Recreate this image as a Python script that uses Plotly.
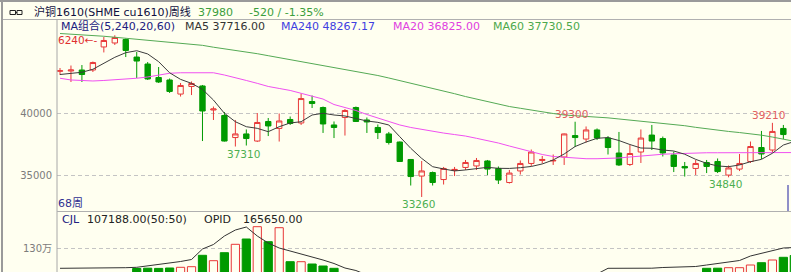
import plotly.graph_objects as go

W, H = 791, 272
BG = "#FFFFF0"
RED = "#E83838"
GREEN = "#009A00"
FONT = "DejaVu Sans, Noto Sans CJK SC"

weeks = list(range(68))
open_ = [43350, 43370, 43450, 43450, 45300, 45620, 45900, 44490, 43930, 42850,
         42650, 41520, 42130, 42170, 40240, 39800, 38030, 38320, 37750, 39320,
         38760, 39480, 39200, 40920, 40440, 39040, 39640, 40440, 39440, 38840,
         38320, 37670, 36270, 34940, 35220, 34660, 35390, 35630, 35750, 36150,
         35550, 34420, 35350, 35950, 36190, 36150, 36470, 38190, 37910, 38640,
         37990, 36790, 35870, 36870, 38230, 37950, 36630, 35710, 35550, 36030,
         36110, 35020, 35500, 36110, 37230, 37030, 38760, 38400]
high = [43610, 43810, 43850, 44130, 46100, 46240, 45980, 44900, 44090, 43690,
        42770, 42410, 42530, 42250, 40520, 40080, 39440, 38680, 40000, 39600,
        39960, 39720, 41570, 41400, 40520, 39320, 40320, 40520, 39640, 39080,
        38480, 37710, 36310, 36150, 35300, 35670, 35670, 36230, 36390, 36230,
        35710, 35430, 36190, 37070, 36550, 36670, 38350, 39300, 38920, 38760,
        38150, 38480, 37430, 38680, 39040, 38110, 36910, 36070, 36230, 36230,
        36350, 35790, 36710, 37710, 38560, 39210, 39040, 38600]
low = [43050, 42490, 42490, 43290, 44860, 45460, 44490, 42810, 42650, 42410,
       41610, 41320, 41440, 37750, 39440, 37710, 37310, 37390, 37670, 38150,
       37710, 39040, 39040, 40400, 38400, 37990, 38190, 39280, 38400, 37910,
       37470, 36070, 34180, 33260, 34180, 34260, 34940, 35430, 35430, 35020,
       34300, 34340, 35060, 35750, 35950, 35830, 35830, 37270, 37630, 37830,
       36670, 35750, 35750, 35990, 37030, 36510, 35260, 34900, 35020, 35180,
       35180, 34840, 35340, 35990, 36310, 36790, 37910, 37800]
close = [43390, 43450, 43090, 44050, 45820, 46060, 45020, 44170, 42730, 42490,
         41730, 42210, 42370, 40160, 40320, 37750, 38320, 37950, 39240, 38960,
         39360, 39160, 41160, 40760, 39120, 38840, 40200, 39320, 39280, 38430,
         37630, 36110, 34900, 35350, 34420, 35550, 35470, 36030, 36190, 35500,
         34620, 35180, 35950, 36870, 36270, 36190, 38320, 38030, 38640, 37990,
         37230, 35830, 36750, 37990, 37750, 36790, 35710, 35590, 35950, 35710,
         35300, 35590, 35950, 37310, 36710, 38520, 38270, 37980]
ma5 = [43090, 43190, 43270, 43510, 43990, 44470, 44840, 45000, 44740, 44120,
       43230, 42700, 42380, 41900, 41040, 39980, 39300, 38900, 38770, 38500,
       38900, 39200, 39300, 39840, 39980, 39840, 39760, 39570, 39360, 39250,
       39040, 38100, 37170, 36360, 35690, 35510, 35350, 35430, 35560, 35640,
       35560, 35550, 35610, 35710, 35910, 36230, 36710, 37310, 37670, 37970,
       38030, 37790, 37470, 37190, 37170, 37030, 36950, 36690, 36280, 35960,
       35750, 35690, 35830, 36090, 36280, 36770, 37430, 37716]
ma20 = [42790, 42650, 42610, 42570, 42610, 42650, 42730, 42790, 42890, 43050,
        43190, 43230, 43250, 43250, 43230, 43050, 42850, 42610, 42380, 42130,
        41970, 41810, 41580, 41320, 41120, 40680, 40430, 40200, 39880, 39600,
        39280, 39040, 38840, 38680, 38520, 38390, 38270, 38150, 37970, 37790,
        37590, 37350, 37110, 36870, 36670, 36510, 36430, 36360, 36330, 36330,
        36350, 36390, 36470, 36550, 36630, 36690, 36730, 36770, 36790, 36810,
        36810, 36820, 36825, 36825, 36825, 36825, 36825, 36825]
ma60 = [46380, 46340, 46280, 46220, 46160, 46080, 46000, 45900, 45820, 45750,
        45700, 45620, 45510, 45430, 45280, 45160, 45060, 44910, 44760, 44600,
        44440, 44290, 44130, 43970, 43810, 43650, 43470, 43370, 43190, 43010,
        42810, 42610, 42410, 42180, 41980, 41770, 41550, 41320, 41110, 40880,
        40720, 40520, 40380, 40220, 40080, 39960, 39840, 39780, 39740, 39700,
        39610, 39520, 39440, 39360, 39260, 39170, 39080, 38980, 38850, 38720,
        38610, 38520, 38430, 38350, 38220, 38070, 37870, 37730]
volume = [780000, 790000, 770000, 800000, 790000, 800000, 810000, 890000, 896000, 892000,
          900000, 914000, 926000, 1154000, 1046000, 1206000, 1374000, 1480000, 1726000, 1426000,
          1706000, 1026000, 1026000, 980000, 940000, 894000, 810000, 790000, 760000, 740000,
          760000, 790000, 800000, 810000, 780000, 760000, 720000, 700000, 690000, 700000,
          720000, 710000, 700000, 720000, 700000, 690000, 730000, 740000, 720000, 710000,
          700000, 730000, 720000, 740000, 730000, 750000, 760000, 770000, 800000, 894000,
          896000, 906000, 906000, 960000, 1006000, 1060000, 1114000, 1150000]
opid = [894000, 894000, 894000, 894000, 894000, 900000, 906000, 914000, 940000, 970000,
        1000000, 1030000, 1070000, 1280000, 1370000, 1540000, 1660000, 1720000, 1540000, 1400000,
        1300000, 1240000, 1180000, 1130000, 1060000, 990000, 900000, 850000, 760000, 740000,
        730000, 720000, 710000, 700000, 690000, 690000, 680000, 680000, 680000, 690000,
        690000, 700000, 700000, 710000, 720000, 730000, 740000, 750000, 760000, 780000,
        894000, 892000, 892000, 894000, 896000, 910000, 914000, 920000, 930000, 960000,
        990000, 1020000, 1050000, 1140000, 1190000, 1240000, 1300000, 1310000]
price_ticks = [35000, 40000]
vol_ticks = [1300000]
vol_ticktext = ["130万"]

extremes = [  # (week, value, text, kind)
    (16, 37310, "37310", "low"),
    (33, 33260, "33260", "low"),
    (61, 34840, "34840", "low"),
    (47, 39300, "39300", "high"),
    (65, 39210, "39210", "high"),
]


def pxx(x):
    return x / W


def pxy(y):
    return 1 - y / H


step = 10.96
x_range = [(57 - 60) / step, (791 - 60) / step]

fig = go.Figure()
fig.add_trace(go.Scatter(x=weeks, y=ma60, mode="lines", line=dict(color="#55AA55", width=1),
                         xaxis="x", yaxis="y", hoverinfo="skip"))
fig.add_trace(go.Scatter(x=weeks, y=ma20, mode="lines", line=dict(color="#F050F0", width=1),
                         xaxis="x", yaxis="y", hoverinfo="skip"))
fig.add_trace(go.Candlestick(
    x=weeks, open=open_, high=high, low=low, close=close,
    increasing=dict(line=dict(color=RED, width=1), fillcolor=BG),
    decreasing=dict(line=dict(color=GREEN, width=1), fillcolor=GREEN),
    whiskerwidth=0, xaxis="x", yaxis="y", hoverinfo="skip"))
fig.add_trace(go.Scatter(x=weeks, y=ma5, mode="lines", line=dict(color="#3c3c3c", width=1),
                         xaxis="x", yaxis="y", hoverinfo="skip"))

up = [c > o for o, c in zip(open_, close)]
fig.add_trace(go.Bar(
    x=weeks, y=volume,
    marker=dict(color=[BG if u else GREEN for u in up],
                line=dict(color=[RED if u else GREEN for u in up], width=1)),
    xaxis="x2", yaxis="y2", hoverinfo="skip"))
fig.add_trace(go.Scatter(x=weeks, y=opid, mode="lines", line=dict(color="#333333", width=1),
                         xaxis="x2", yaxis="y2", hoverinfo="skip"))

axis_font = dict(family=FONT, size=10, color="#7c7c7c")
fig.update_layout(
    width=W, height=H, margin=dict(l=0, r=0, t=0, b=0),
    paper_bgcolor=BG, plot_bgcolor=BG, showlegend=False, bargap=0.25,
    xaxis=dict(domain=[pxx(57), 1], range=x_range, showticklabels=False, showgrid=False,
               zeroline=False, rangeslider=dict(visible=False), anchor="y"),
    xaxis2=dict(domain=[pxx(57), 1], range=x_range, showticklabels=False, showgrid=False,
                zeroline=False, anchor="y2", matches="x"),
    yaxis=dict(domain=[pxy(211), pxy(20)], range=[32135, 47464], tickvals=price_ticks,
               ticktext=[str(t) for t in price_ticks], showgrid=True, gridcolor="#c4c4c4",
               griddash="4px,3px", gridwidth=1, zeroline=False, tickfont=axis_font,
               ticklabelstandoff=4, anchor="x"),
    yaxis2=dict(domain=[0, pxy(212)], range=[820000, 2020000], tickvals=vol_ticks,
                ticktext=vol_ticktext, showgrid=True, gridcolor="#c4c4c4",
                griddash="4px,3px", gridwidth=1, zeroline=False, tickfont=axis_font,
                ticklabelstandoff=4, anchor="x2"),
)

anns = []


def txt(x, y, text, color, size=11, anchor="left"):
    anns.append(dict(x=pxx(x), y=pxy(y), xref="paper", yref="paper", text=text,
                     showarrow=False, xanchor=anchor, yanchor="middle",
                     font=dict(family=FONT, size=size, color=color)))


txt(32, 12.5, "沪铜1610(SHME cu1610)周线", "#101040", 11)
txt(196, 12.5, "37980", "#3C9E3C", 11)
txt(247, 12.5, "-520 / -1.35%", "#3C9E3C", 11)
txt(59, 26, "MA组合(5,240,20,60)", "#202080", 11)
txt(183, 26, "MA5 37716.00", "#333333", 11)
txt(279, 26, "MA240 48267.17", "#4040E0", 11)
txt(391, 26, "MA20 36825.00", "#E040E0", 11)
txt(491, 26, "MA60 37730.50", "#4CA84C", 11)
txt(56, 40, "6240←-", "#E03030", 10.5)
txt(56, 203, "68周", "#303090", 11)
txt(60, 219.5, "CJL", "#202080", 11)
txt(85, 219.5, "107188.00(50:50)", "#222222", 11)
txt(202, 219.5, "OPID", "#222222", 11)
txt(241, 219.5, "165650.00", "#222222", 11)

for wk, val, text, kind in extremes:
    anns.append(dict(x=wk, y=val, xref="x", yref="y", text=text, showarrow=False,
                     xanchor="center", yanchor="middle", xshift=-3.5 if wk != 16 else 8,
                     yshift=(-7 if kind == "low" else 7.5),
                     font=dict(family=FONT, size=10.5,
                               color="#4CAF50" if kind == "low" else "#E06060")))
fig.update_layout(annotations=anns)

shapes = []


def line(x0, y0, x1, y1, color, width=1):
    shapes.append(dict(type="line", xref="paper", yref="paper", x0=pxx(x0), y0=pxy(y0),
                       x1=pxx(x1), y1=pxy(y1), line=dict(color=color, width=width)))


line(0, 1, W, 1, "#9a9a9a", 2)
line(2, 0, 2, H, "#9a9a9a", 2)
line(3, 19.5, W, 19.5, "#b0b0b0", 1)
line(57, 19.5, 57, H, "#a8a8a8", 1)
line(57, 211.5, W, 211.5, "#b0b0b0", 1)
line(788, 185, 788, 211, "#2020A0", 1)
# link icon in title bar
for (a, b) in [(10, 15.5), (17, 22)]:
    shapes.append(dict(type="rect", xref="paper", yref="paper", x0=pxx(a), x1=pxx(b),
                       y0=pxy(14.5), y1=pxy(10.5), line=dict(color="#222222", width=1)))
line(15.5, 12.5, 17, 12.5, "#222222", 1)
fig.update_layout(shapes=shapes)

fig.write_html("out.html")
